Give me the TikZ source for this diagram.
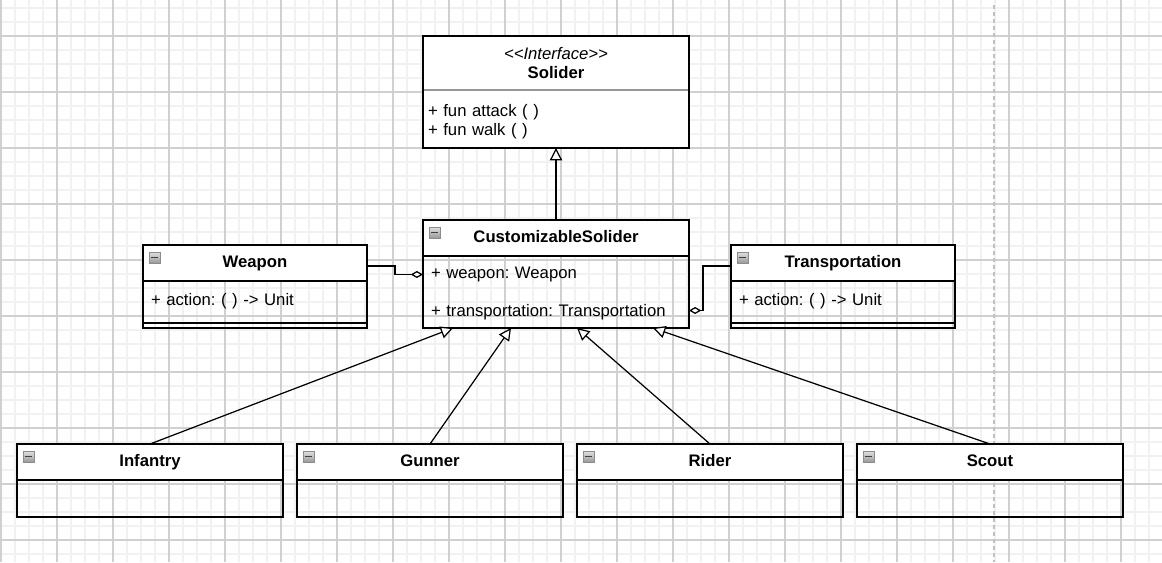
\documentclass[tikz,border=0pt]{standalone}
\usepackage{fontspec}
\setmainfont{Liberation Sans}
\usepackage{xcolor}
\definecolor{gridminor}{RGB}{241, 241, 241}
\definecolor{gridmajor}{RGB}{208, 208, 208}
\definecolor{guidegray}{RGB}{192, 192, 192}
\definecolor{dividergray}{RGB}{150, 150, 150}
\usepackage{tikz}
\usetikzlibrary{arrows.meta, positioning}
\newcommand{\umlsize}{\fontsize{9.5}{11}\selectfont\frenchspacing}

\begin{document}
\begin{tikzpicture}[
    x=0.02cm, y=-0.02cm,
    font=\umlsize,
    clshead/.style={rectangle, draw=black, line width=0.75pt, fill=white, inner sep=0pt, outer sep=0pt, minimum height=0.72cm, text height=0.72em, text depth=0.2em, font=\umlsize\bfseries},
    ifhead/.style={rectangle, fill=white, inner sep=0pt, outer sep=0pt, minimum width=5.32cm, minimum height=1.08cm, align=center},
    ifbody/.style={rectangle, fill=white, inner xsep=0.1cm, inner ysep=0pt, outer sep=0pt, text width=5.12cm, text depth=10pt, minimum height=1.16cm, align=left},
    attrrow/.style={rectangle, inner xsep=0.16cm, inner ysep=0pt, outer sep=0pt, minimum height=0.72cm, align=left},
    emptybody/.style={rectangle, draw=black, line width=0.75pt, inner sep=0pt, outer sep=0pt, minimum width=5.32cm, minimum height=0.74cm},
    opsrow/.style={rectangle, draw=black, line width=0.75pt, inner sep=0pt, outer sep=0pt, minimum width=4.48cm, minimum height=0.1cm},
    frame/.style={draw=black, line width=0.75pt},
    minusicon/.style={rectangle, draw=black!45, line width=0.4pt, top color=black!12, bottom color=black!40, inner sep=0pt, minimum size=0.22cm,
      path picture={\draw[black!75, line width=1.1pt] ([xshift=1.4pt]path picture bounding box.west) -- ([xshift=-1.4pt]path picture bounding box.east);}},
    gen/.style={-{Triangle[fill=white, length=7pt, width=7pt]}, line width=0.7pt},
    agg/.style={-{Diamond[fill=white, length=7pt, width=4pt]}, line width=0.7pt}
  ]
    \useasboundingbox (0,0) rectangle (1162,562);
    \fill[white] (0,0) rectangle (1162,562);
    \foreach \gx in {1,15,...,1161} \draw[gridminor, line width=1.1pt] (\gx,0) -- (\gx,562);
    \foreach \gy in {8,22,...,560} \draw[gridminor, line width=1.1pt] (0,\gy) -- (1162,\gy);
    \foreach \gx in {1,57,...,1161} \draw[gridmajor, line width=0.6pt] (\gx,0) -- (\gx,562);
    \foreach \gy in {36,92,...,540} \draw[gridmajor, line width=0.6pt] (0,\gy) -- (1162,\gy);
    \draw[guidegray, line width=1.1pt, dash pattern=on 2.3pt off 1.7pt] (994,5) -- (994,562);

    \node[ifhead] (sol-h) at (556,63) {{\itshape <\kern0pt<Interface>\kern0pt>}\\\textbf{Solider}};
    \node[ifbody, below=0pt of sol-h] (sol-b) {+ fun attack ( )\\+ fun walk ( )};
    \draw[frame] (sol-h.north west) rectangle (sol-b.south east);
    \draw[dividergray, line width=0.75pt] ([xshift=0.4pt]sol-h.south west) -- ([xshift=-0.4pt]sol-h.south east);

    \node[clshead, minimum width=5.32cm] (cus-h) at (556,238) {CustomizableSolider};
    \node[attrrow, text width=5cm, minimum height=0.74cm, below=0pt of cus-h] (cus-w) {+ weapon: Weapon};
    \node[attrrow, text width=5cm, minimum height=0.7cm, text depth=0pt, below=0pt of cus-w] (cus-t) {+ transportation: Transportation};
    \draw[frame] (cus-h.north west) rectangle (cus-t.south east);
    \node[minusicon] (cus-ic) at ([xshift=0.23cm, yshift=-0.25cm]cus-h.north west) {};

    \node[clshead, minimum width=4.48cm] (wpn-h) at (255,263) {Weapon};
    \node[attrrow, text width=4.16cm, text depth=0pt, below=0pt of wpn-h] (wpn-a) {+ action: ( ) -> Unit};
    \node[opsrow, below=0.12cm of wpn-a] (wpn-o) {};
    \draw[frame] (wpn-h.north west) rectangle (wpn-o.south east);
    \node[minusicon] (wpn-ic) at ([xshift=0.23cm, yshift=-0.25cm]wpn-h.north west) {};

    \node[clshead, minimum width=4.48cm] (trn-h) at (843,263) {Transportation};
    \node[attrrow, text width=4.16cm, text depth=0pt, below=0pt of trn-h] (trn-a) {+ action: ( ) -> Unit};
    \node[opsrow, below=0.12cm of trn-a] (trn-o) {};
    \draw[frame] (trn-h.north west) rectangle (trn-o.south east);
    \node[minusicon] (trn-ic) at ([xshift=0.23cm, yshift=-0.25cm]trn-h.north west) {};

    \node[clshead, minimum width=5.32cm] (inf-h) at (150,462) {Infantry};
    \node[emptybody, below=0pt of inf-h] (inf-b) {};
    \node[minusicon] (inf-ic) at ([xshift=0.23cm, yshift=-0.25cm]inf-h.north west) {};

    \node[clshead, minimum width=5.32cm] (gun-h) at (430,462) {Gunner};
    \node[emptybody, below=0pt of gun-h] (gun-b) {};
    \node[minusicon] (gun-ic) at ([xshift=0.23cm, yshift=-0.25cm]gun-h.north west) {};

    \node[clshead, minimum width=5.32cm] (rid-h) at (710,462) {Rider};
    \node[emptybody, below=0pt of rid-h] (rid-b) {};
    \node[minusicon] (rid-ic) at ([xshift=0.23cm, yshift=-0.25cm]rid-h.north west) {};

    \node[clshead, minimum width=5.32cm] (sct-h) at (990,462) {Scout};
    \node[emptybody, below=0pt of sct-h] (sct-b) {};
    \node[minusicon] (sct-ic) at ([xshift=0.23cm, yshift=-0.25cm]sct-h.north west) {};

    \draw[gen] (cus-h.north) -- (sol-b.south);
    \draw[agg] ([yshift=-0.06cm]wpn-h.east) -- ++(28,0) |- (cus-w.west);
    \draw[agg] ([yshift=-0.06cm]trn-h.west) -- ++(-28,0) |- (cus-t.east);
    \draw[gen] (inf-h.north) -- ([xshift=0.6cm]cus-t.south west);
    \draw[gen] (gun-h.north) -- ([xshift=1.76cm]cus-t.south west);
    \draw[gen] (rid-h.north) -- ([xshift=3.08cm]cus-t.south west);
    \draw[gen] (sct-h.north) -- ([xshift=4.6cm]cus-t.south west);
  \end{tikzpicture}
\end{document}
